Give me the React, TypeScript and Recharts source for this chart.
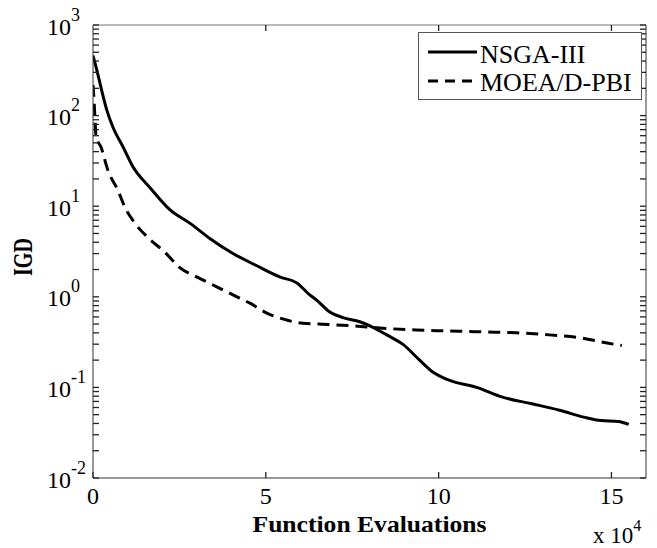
import React from "react";
import { LineChart, Line, XAxis, YAxis, Legend } from "recharts";

// function evaluations, in units of 10^4
const NSGA_X = [
  0, 0.1, 0.2, 0.4, 0.58, 0.87, 1.16, 1.65, 2.23, 2.8, 3.38, 4.05, 4.74, 5.4,
  5.9, 6.27, 6.47, 6.85, 7.23, 7.72, 8.1, 8.5, 8.96, 9.45, 9.83, 10.3, 11.1,
  11.85, 12.7, 13.5, 14.2, 14.7, 15.2, 15.5,
];
const NSGA_IGD = [
  460, 330, 229, 115, 74, 45, 27, 16, 9.1, 6.5, 4.4, 3.0, 2.2, 1.66, 1.42, 1.05,
  0.92, 0.68, 0.59, 0.53, 0.46, 0.38, 0.3, 0.2, 0.148, 0.12, 0.1, 0.078, 0.066,
  0.056, 0.047, 0.043, 0.042, 0.039,
];

const MOEAD_X = [
  0, 0.03, 0.06, 0.09, 0.23, 0.43, 0.72, 0.92, 1.21, 1.59, 2.08, 2.51, 3.0,
  3.58, 4.05, 4.54, 5.03, 5.49, 6.07, 6.56, 7.43, 8.38, 9.36, 10.3, 11.27,
  12.25, 13.2, 14.16, 14.65, 15.3,
];
const MOEAD_IGD = [
  218, 147, 89, 58, 45, 25, 15, 9.8, 6.5, 4.5, 3.1, 2.1, 1.66, 1.29, 1.05,
  0.85, 0.66, 0.57, 0.51, 0.5, 0.48, 0.45, 0.43, 0.42, 0.41, 0.4, 0.38, 0.35,
  0.32, 0.29,
];

const X_TICKS = [0, 5, 10, 15];
const Y_MAJOR = [0.01, 0.1, 1, 10, 100, 1000];
const Y_TICKS = [
  0.01, 0.02, 0.03, 0.04, 0.05, 0.06, 0.07, 0.08, 0.09,
  0.1, 0.2, 0.3, 0.4, 0.5, 0.6, 0.7, 0.8, 0.9,
  1, 2, 3, 4, 5, 6, 7, 8, 9,
  10, 20, 30, 40, 50, 60, 70, 80, 90,
  100, 200, 300, 400, 500, 600, 700, 800, 900,
  1000,
];

const nsga = NSGA_X.map((x, i) => ({ x, y: NSGA_IGD[i] }));
const moead = MOEAD_X.map((x, i) => ({ x, y: MOEAD_IGD[i] }));

const FONT = "'Liberation Serif', 'Times New Roman', serif";
const AXIS = "#333";
const TICK_LINE = { stroke: "#222", strokeWidth: 1.3 };

const isMajor = (v: number) => Y_MAJOR.some((m) => Math.abs(m - v) < m * 1e-6);

const LeftTick = (props: any) => {
  const { x, y, payload } = props;
  const v = payload.value;
  if (!isMajor(v)) return <g />;
  const exp = Math.round(Math.log10(v));
  return (
    <text x={x - 46} y={y + 9.5} fontFamily={FONT} fontSize={24} fill="#000">
      <tspan>10</tspan>
      <tspan dy={-14} fontSize={18}>{exp}</tspan>
    </text>
  );
};

const BottomTick = (props: any) => {
  const { x, y, payload } = props;
  return (
    <text x={x} y={y + 26} textAnchor="middle" fontFamily={FONT} fontSize={24} fill="#000">
      {payload.value}
    </text>
  );
};

const NoLabel = () => <g />;

const XLabel = (props: any) => {
  const { viewBox } = props;
  const cx = viewBox.x + viewBox.width / 2;
  const right = viewBox.x + viewBox.width;
  return (
    <g>
      <text
        x={cx}
        y={viewBox.y + 54}
        textAnchor="middle"
        fontFamily={FONT}
        fontWeight="bold"
        fontSize={24}
        textLength={234}
        lengthAdjust="spacingAndGlyphs"
        fill="#000"
      >
        Function Evaluations
      </text>
      <text x={right - 53} y={viewBox.y + 65} fontFamily={FONT} fontSize={23} fill="#000">
        <tspan>x 10</tspan>
        <tspan dy={-12} fontSize={16}>4</tspan>
      </text>
    </g>
  );
};

const YLabel = () => (
  <text
    x={0}
    y={0}
    transform="translate(32, 257) rotate(-90)"
    textAnchor="middle"
    fontFamily={FONT}
    fontWeight="bold"
    fontSize={27}
    textLength={38}
    lengthAdjust="spacingAndGlyphs"
    fill="#000"
  >
    IGD
  </text>
);

const LegendBox = () => (
  <svg width={224} height={68} style={{ display: "block" }}>
    <rect x={0.5} y={0.5} width={223} height={67} fill="#fff" stroke="#555" />
    <line x1={10} x2={59} y1={20} y2={20} stroke="#000" strokeWidth={3} />
    <text x={62} y={31} fontFamily={FONT} fontSize={26} fill="#000">
      NSGA-III
    </text>
    <line x1={10} x2={59} y1={49} y2={49} stroke="#000" strokeWidth={3} strokeDasharray="10 7" />
    <text x={62} y={59} fontFamily={FONT} fontSize={26} fill="#000">
      MOEA/D-PBI
    </text>
  </svg>
);

export default function App() {
  return (
    <div style={{ position: "absolute", left: 0, top: 0, width: 657, height: 548, background: "#fff" }}>
      <LineChart width={657} height={548} margin={{ top: 24, right: 10, bottom: 0, left: 0 }}>
        <XAxis
          xAxisId="b"
          type="number"
          dataKey="x"
          domain={[0, 16]}
          ticks={X_TICKS}
          interval={0}
          height={70}
          tickSize={-6}
          tickMargin={6}
          tickLine={TICK_LINE}
          tick={(p: any) => <BottomTick {...p} />}
          axisLine={{ stroke: AXIS }}
          allowDataOverflow
          label={{ content: (p: any) => <XLabel {...p} /> }}
        />
        <XAxis
          xAxisId="t"
          orientation="top"
          type="number"
          dataKey="x"
          domain={[0, 16]}
          ticks={X_TICKS.slice(1)}
          interval={0}
          height={1}
          tickSize={-6}
          tickMargin={0}
          tickLine={TICK_LINE}
          tick={(p: any) => <NoLabel />}
          axisLine={{ stroke: "#777" }}
          allowDataOverflow
        />
        <YAxis
          yAxisId="l"
          type="number"
          scale="log"
          domain={[0.01, 1000]}
          ticks={Y_TICKS}
          interval={0}
          width={93}
          tickSize={-6}
          tickMargin={6}
          tickLine={TICK_LINE}
          tick={(p: any) => <LeftTick {...p} />}
          axisLine={{ stroke: AXIS }}
          allowDataOverflow
          label={{ content: () => <YLabel /> }}
        />
        <YAxis
          yAxisId="r"
          orientation="right"
          type="number"
          scale="log"
          domain={[0.01, 1000]}
          ticks={Y_TICKS}
          interval={0}
          width={1}
          tickSize={-6}
          tickMargin={0}
          tickLine={TICK_LINE}
          tick={(p: any) => <NoLabel />}
          axisLine={{ stroke: AXIS }}
          allowDataOverflow
        />
        <Legend
          layout="vertical"
          align="center"
          verticalAlign="middle"
          wrapperStyle={{ position: "absolute", left: 418, top: 32, width: 224, height: 68 }}
          content={() => <LegendBox />}
        />
        <Line
          xAxisId="b"
          yAxisId="l"
          data={nsga}
          dataKey="y"
          name="NSGA-III"
          type="monotone"
          stroke="#000"
          strokeWidth={3}
          dot={false}
          isAnimationActive={false}
        />
        <Line
          xAxisId="b"
          yAxisId="l"
          data={moead}
          dataKey="y"
          name="MOEA/D-PBI"
          type="monotone"
          stroke="#000"
          strokeWidth={3}
          strokeDasharray="12 7"
          dot={false}
          isAnimationActive={false}
        />
      </LineChart>
    </div>
  );
}
